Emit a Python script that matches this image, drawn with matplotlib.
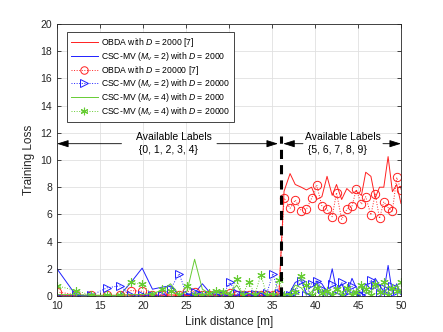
import matplotlib
matplotlib.use('Agg')
import matplotlib.pyplot as plt

plt.rcParams['font.family'] = ['Liberation Sans', 'DejaVu Sans']
plt.rcParams['mathtext.fontset'] = 'custom'
plt.rcParams['mathtext.rm'] = 'Liberation Sans'
plt.rcParams['mathtext.it'] = 'Liberation Sans:italic'

# link distances [m]
dist = [10.0, 12.2, 14.0, 15.8, 17.3, 18.6, 19.9, 21.1, 22.2, 23.2,
        24.2, 25.1, 26.0, 26.9, 27.7, 28.5, 29.3, 30.1, 30.9, 31.6,
        32.3, 33.0, 33.7, 34.4, 35.1, 35.8,
        36.4, 37.1, 37.7, 38.4, 39.0, 39.6, 40.2, 40.8, 41.4, 42.0,
        42.5, 43.1, 43.7, 44.3, 44.8, 45.4, 45.9, 46.5, 47.0, 47.5,
        48.0, 48.5, 49.0, 49.5, 50.0]

# OBDA, D = 2000
obda_2k = [0.05, 0.03, 0.02, 0.03, 0.05, 0.08, 0.06, 0.04, 0.05, 0.08,
           0.06, 0.05, 0.07, 0.05, 0.06, 0.04, 0.05, 0.06, 0.04, 0.05,
           0.03, 0.04, 0.05, 0.03, 0.04, 0.05,
           7.7, 9.0, 8.2, 8.0, 7.8, 8.0, 7.1, 7.3, 8.8, 7.4,
           8.2, 7.1, 7.9, 7.55, 7.7, 7.4, 9.1, 8.8, 7.2, 8.0,
           8.0, 10.25, 7.67, 8.2, 6.8]

# OBDA, D = 20000
obda_20k = [0.3, 0.1, 0.05, 0.05, 0.05, 0.4, 0.35, 0.05, 0.1, 0.05,
            0.05, 0.35, 0.3, 0.1, 0.05, 0.1, 0.05, 0.25, 0.1, 0.05,
            0.1, 0.05, 0.1, 0.05, 0.05, 0.1,
            7.2, 6.45, 7.06, 6.27, 6.37, 7.18, 8.16, 6.6, 6.37, 5.83,
            7.6, 5.64, 6.37, 6.6, 7.84, 6.74, 7.3, 5.95, 7.5, 5.7,
            6.93, 6.5, 6.25, 8.72, 7.8]

# CSC-MV (Mv = 2), D = 2000
csc2_2k = [2.0, 0.05, 0.02, 0.02, 0.05, 1.0, 2.05, 0.5, 0.65, 0.75,
           0.05, 0.1, 0.2, 0.9, 0.3, 0.1, 0.05, 0.1, 0.05, 0.3,
           0.1, 0.05, 0.2, 0.05, 0.1, 0.05,
           0.05, 0.3, 1.0, 1.2, 0.2, 0.05, 1.1, 0.9, 0.3, 2.0,
           0.4, 0.9, 0.1, 1.3, 0.6, 0.2, 0.9, 0.5, 1.3, 0.8,
           0.3, 2.25, 0.2, 0.9, 0.1]

# CSC-MV (Mv = 2), D = 20000
csc2_20k = [0.02, 0.05, 0.05, 0.6, 0.75, 0.05, 0.05, 0.1, 0.05, 0.5,
            1.65, 0.05, 0.3, 0.1, 0.05, 0.1, 0.1, 1.0, 0.2, 0.05,
            0.1, 0.15, 0.05, 0.2, 1.65, 0.2,
            0.1, 0.05, 0.3, 1.1, 0.05, 0.9, 1.1, 0.5, 0.05, 0.9,
            0.1, 1.0, 0.3, 0.7, 0.1, 0.05, 0.4, 1.2, 0.8, 0.2,
            0.6, 0.05, 0.7, 0.4, 0.1]

# CSC-MV (Mv = 4), D = 2000
csc4_2k = [0.1, 0.1, 0.05, 0.05, 0.05, 0.1, 0.1, 0.2, 0.4, 0.9,
           0.1, 0.3, 2.7, 0.5, 0.2, 0.3, 0.4, 0.2, 0.8, 0.1,
           0.2, 0.1, 0.3, 0.1, 0.2, 0.05,
           0.1, 0.2, 0.8, 0.6, 0.1, 0.3, 0.9, 0.2, 0.4, 0.1,
           0.6, 0.2, 0.5, 0.1, 0.4, 0.7, 0.2, 0.3, 0.9, 0.5,
           0.1, 0.7, 0.4, 0.8, 0.3]

# CSC-MV (Mv = 4), D = 20000
csc4_20k = [0.75, 0.4, 0.05, 0.05, 0.05, 1.0, 0.85, 0.1, 0.5, 0.4,
            0.05, 0.7, 0.1, 0.05, 0.2, 0.4, 0.3, 0.05, 1.25, 0.1,
            1.05, 0.1, 1.55, 0.05, 0.1, 1.2,
            0.1, 0.05, 0.3, 1.5, 0.8, 0.05, 0.6, 0.2, 0.4, 0.05,
            0.5, 0.1, 0.6, 0.05, 0.3, 0.8, 0.5, 0.05, 0.9, 0.3,
            1.0, 0.1, 0.6, 0.4, 1.0]

split_x = 36
green = '#66cc33'
asterisk = (6, 2, 0)

fig = plt.figure(figsize=(4.43, 3.32), dpi=100)
ax = fig.add_axes([0.1287, 0.1084, 0.7765, 0.8193])

ax.plot(dist, obda_2k, '-', color='#ff2020', lw=0.7,
        label=r'OBDA with $D$ = 2000 [7]')
ax.plot(dist, csc2_2k, '-', color='#2020ff', lw=0.7,
        label=r'CSC-MV ($M_v$ = 2) with $D$ = 2000')
ax.plot(dist, obda_20k, ':', color='#ff2020', lw=0.7, marker='o', ms=6,
        mfc='none', mew=0.7, label=r'OBDA with $D$ = 20000 [7]')
ax.plot(dist, csc2_20k, ':', color='#2020ff', lw=0.7, marker='>', ms=6,
        mfc='none', mew=0.7, label=r'CSC-MV ($M_v$ = 2) with $D$ = 20000')
ax.plot(dist, csc4_2k, '-', color=green, lw=0.7,
        label=r'CSC-MV ($M_v$ = 4) with $D$ = 2000')
ax.plot(dist, csc4_20k, ':', color=green, lw=0.7, marker=asterisk, ms=6,
        mew=0.8, label=r'CSC-MV ($M_v$ = 4) with $D$ = 20000')

# split between label sets
ax.plot([split_x, split_x], [0, 11.8], '--', color='k', lw=2.2, dashes=(3, 2))

arrow = dict(arrowstyle='-|>,head_length=0.7,head_width=0.22', color='k',
             lw=0.6, shrinkA=0, shrinkB=0)
ay = 11.2
ax.annotate('', xy=(10, ay), xytext=(17.5, ay), arrowprops=arrow)
ax.annotate('', xy=(35.7, ay), xytext=(28.6, ay), arrowprops=arrow)
ax.annotate('', xy=(36.3, ay), xytext=(38.6, ay), arrowprops=arrow)
ax.annotate('', xy=(50, ay), xytext=(47.9, ay), arrowprops=arrow)
ax.text(19.2, ay, 'Available Labels\n {0, 1, 2, 3, 4}', ha='left',
        va='center', fontsize=7.5, linespacing=1.35)
ax.text(38.8, ay, 'Available Labels\n {5, 6, 7, 8, 9}', ha='left',
        va='center', fontsize=7.5, linespacing=1.35)

ax.set_xlim(10, 50)
ax.set_ylim(0, 20)
ax.set_xticks(range(10, 51, 5))
ax.set_yticks(range(0, 21, 2))
ax.grid(True, color='#e0e0e0', lw=0.6)
ax.set_axisbelow(True)
ax.tick_params(direction='in', top=True, right=True, labelsize=7.5,
               colors='#262626', length=3, width=0.6)
for s in ax.spines.values():
    s.set_color('#262626')
    s.set_linewidth(0.6)
ax.set_xlabel('Link distance [m]', fontsize=8.5, color='#262626')
ax.set_ylabel('Training Loss', fontsize=8.5, color='#262626')

leg = ax.legend(loc='upper left', bbox_to_anchor=(10 / 344, 1 - 8 / 272),
                borderaxespad=0, fontsize=6.2, frameon=True, fancybox=False,
                edgecolor='#262626', framealpha=1, handlelength=3.1,
                handletextpad=0.4, labelspacing=0.1, borderpad=0.45,
                markerscale=0.9)
leg.get_frame().set_linewidth(0.6)

fig.savefig('out.png', dpi=100)
